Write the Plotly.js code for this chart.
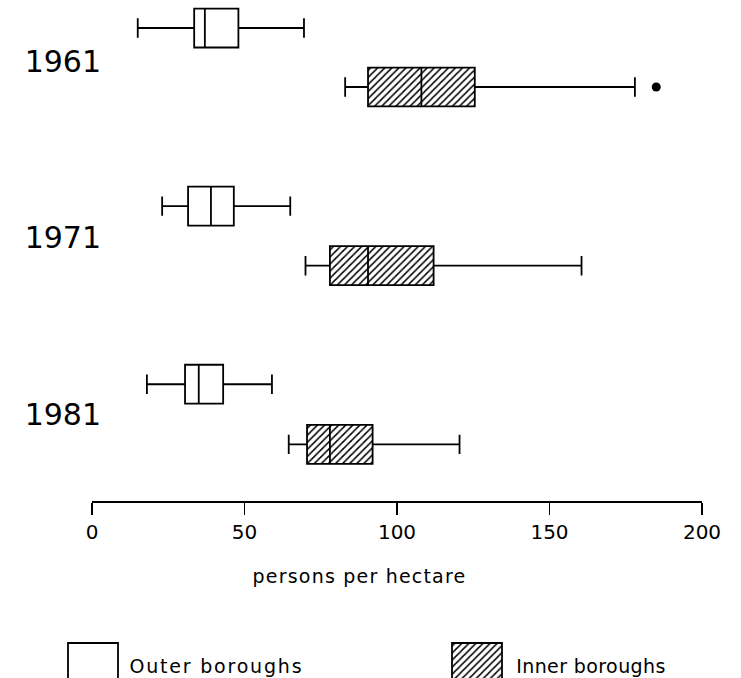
<!DOCTYPE html>
<html>
<head>
<meta charset="utf-8">
<script src="https://cdn.plot.ly/plotly-3.0.1.min.js"></script>
<style>
html,body{margin:0;padding:0;background:#fff}
#chart{width:741px;height:678px}
#chart .annotation[data-index="0"] .annotation-text{letter-spacing:1.2px}
#chart .annotation[data-index="1"] .annotation-text{letter-spacing:1.8px}
#chart .annotation[data-index="2"] .annotation-text{letter-spacing:0.4px}
</style>
</head>
<body>
<div id="chart"></div>
<script>
// ---- data (persons per hectare) ----
const years = ['1961', '1971', '1981'];
const outerMin = [15, 23, 18];
const outerQ1 = [33.5, 31.5, 30.5];
const outerMedian = [37, 39, 35];
const outerQ3 = [48, 46.5, 43];
const outerMax = [69.5, 65, 59];
const innerMin = [83, 70, 64.5];
const innerQ1 = [90.5, 78, 70.5];
const innerMedian = [108, 90.5, 78];
const innerQ3 = [125.5, 112, 92];
const innerMax = [178, 160.5, 120.5];
const innerOutlierYear = ['1961'];
const innerOutlierValue = [185];
const xTicks = [0, 50, 100, 150, 200];
const seriesNames = ['Outer boroughs', 'Inner boroughs'];
const xTitle = 'persons per hectare';

// ---- layout helpers ----
const yearIdx = y => years.indexOf(y);
const outerPos = years.map((y, i) => 3 * i + 0.02 * i);
const innerPos = years.map((y, i) => 3 * i + 1 + 0.03 * i);
const groupPos = years.map((y, i) => 3 * i + 0.56);
const BOXW = 0.66;
const FONT = 'DejaVu Sans, Noto Sans, sans-serif';
const hatch = {shape: '/', fgcolor: '#000', bgcolor: '#fff', size: 5, solidity: 0.3, fillmode: 'replace'};

const traces = [
  // hatched fill for inner boroughs boxes
  {
    type: 'bar', orientation: 'h', xaxis: 'x', yaxis: 'y',
    y: innerPos, base: innerQ1, x: innerQ3.map((q, i) => q - innerQ1[i]),
    width: BOXW, marker: {color: '#fff', pattern: hatch, line: {width: 0}},
    showlegend: false, hoverinfo: 'skip'
  },
  {
    type: 'box', orientation: 'h', name: seriesNames[0], xaxis: 'x', yaxis: 'y',
    y: outerPos, q1: outerQ1, median: outerMedian, q3: outerQ3,
    lowerfence: outerMin, upperfence: outerMax,
    width: BOXW, whiskerwidth: 0.5, boxpoints: false,
    fillcolor: '#fff', line: {color: '#000', width: 1.8}, showlegend: false
  },
  {
    type: 'box', orientation: 'h', name: seriesNames[1], xaxis: 'x', yaxis: 'y',
    y: innerPos, q1: innerQ1, median: innerMedian, q3: innerQ3,
    lowerfence: innerMin, upperfence: innerMax,
    width: BOXW, whiskerwidth: 0.5, boxpoints: false,
    fillcolor: 'rgba(0,0,0,0)', line: {color: '#000', width: 1.8}, showlegend: false
  },
  {
    type: 'scatter', mode: 'markers', xaxis: 'x', yaxis: 'y',
    x: innerOutlierValue, y: innerOutlierYear.map(y => innerPos[yearIdx(y)]),
    marker: {color: '#000', size: 9}, showlegend: false
  },
  // legend swatches
  {
    type: 'bar', xaxis: 'x2', yaxis: 'y2', x: [93], base: [643], y: [60], width: 50,
    marker: {color: '#fff', line: {color: '#000', width: 1.8}}, showlegend: false
  },
  {
    type: 'bar', xaxis: 'x2', yaxis: 'y2', x: [477], base: [643], y: [60], width: 50,
    marker: {color: '#fff', pattern: hatch, line: {color: '#000', width: 1.8}}, showlegend: false
  }
];

const layout = {
  width: 741, height: 678,
  margin: {l: 0, r: 0, t: 0, b: 0, pad: 0},
  paper_bgcolor: '#fff', plot_bgcolor: 'rgba(0,0,0,0)',
  showlegend: false, hovermode: false, barmode: 'overlay',
  font: {family: FONT, color: '#000'},
  xaxis: {
    domain: [92 / 741, 702 / 741], range: [0, 200], anchor: 'y',
    showgrid: false, zeroline: false, showline: true, linecolor: '#000', linewidth: 1.5,
    ticks: 'outside', ticklen: 12, tickwidth: 1.3, tickcolor: '#000',
    tickmode: 'array', tickvals: xTicks, ticktext: xTicks.map(String),
    tickfont: {size: 20, family: FONT}
  },
  yaxis: {
    domain: [177 / 678, 1], range: [8.02, -0.475], anchor: 'x',
    showgrid: false, zeroline: false, showline: false, ticks: '',
    tickmode: 'array', tickvals: groupPos, ticktext: years,
    tickfont: {size: 30, family: FONT}, ticklabelstandoff: -10
  },
  xaxis2: {domain: [0, 1], range: [0, 741], anchor: 'y2', visible: false, fixedrange: true},
  yaxis2: {domain: [0, 0.1], range: [678, 610.2], anchor: 'x2', visible: false, fixedrange: true},
  annotations: [
    {xref: 'paper', yref: 'paper', x: 359 / 741, y: 1 - 576 / 678, text: xTitle, showarrow: false,
     xanchor: 'center', yanchor: 'middle', font: {size: 19, family: FONT}},
    {xref: 'x2', yref: 'y2', x: 128 + 13 * 1.8 / 2, y: 666, text: seriesNames[0], showarrow: false,
     xanchor: 'left', yanchor: 'middle', font: {size: 19, family: FONT}},
    {xref: 'x2', yref: 'y2', x: 514 + 13 * 0.4 / 2, y: 666, text: seriesNames[1], showarrow: false,
     xanchor: 'left', yanchor: 'middle', font: {size: 19, family: FONT}}
  ]
};

Plotly.newPlot('chart', traces, layout, {staticPlot: true, displayModeBar: false});
</script>
</body>
</html>
